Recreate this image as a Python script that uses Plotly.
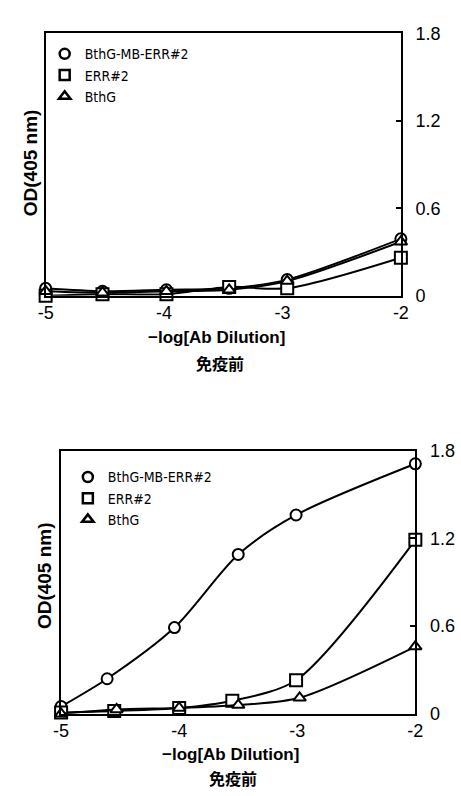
import plotly.graph_objects as go

# ---------------- data ----------------
series_names = ["BthG-MB-ERR#2", "ERR#2", "BthG"]
symbols = ["circle", "square", "triangle-up"]
marker_sizes = [11, 12, 11]

# Top panel (免疫前)
top_x_circle = [-5.0, -4.52, -3.98, -3.45, -2.96, -2.0]
top_y_circle = [0.05, 0.03, 0.04, 0.05, 0.11, 0.39]
top_x_square = [-5.0, -4.52, -3.98, -3.45, -2.96, -2.0]
top_y_square = [0.00, 0.01, 0.01, 0.06, 0.05, 0.26]
top_x_tri = [-5.0, -4.52, -3.98, -3.45, -2.96, -2.0]
top_y_tri = [0.03, 0.02, 0.03, 0.04, 0.10, 0.37]

# Bottom panel (免疫前)
bot_x_circle = [-5.0, -4.61, -4.04, -3.5, -3.01, -2.0]
bot_y_circle = [0.05, 0.24, 0.59, 1.09, 1.36, 1.71]
bot_x_square = [-5.0, -4.55, -4.0, -3.55, -3.01, -2.0]
bot_y_square = [0.01, 0.02, 0.04, 0.09, 0.23, 1.19]
bot_x_tri = [-5.0, -4.53, -4.0, -3.5, -2.98, -2.0]
bot_y_tri = [0.00, 0.03, 0.04, 0.06, 0.11, 0.46]

x_tickvals = [-5, -4, -3, -2]
x_ticktext = ["-5", "-4", "-3", "-2"]
y_tickvals = [0, 0.6, 1.2, 1.8]
y_ticktext = ["0", "0.6", "1.2", "1.8"]

x_title = "−log[Ab Dilution]"
sub_title = "免疫前"
y_title = "OD(405 nm)"

W, H = 461, 796
FONT = "Liberation Sans, Arial, sans-serif"
NARROW = "DejaVu Sans Condensed, DejaVu Sans, sans-serif"
CJK = "Noto Sans CJK JP, Noto Sans CJK SC, sans-serif"

fig = go.Figure()

panels = [
    dict(xa="x", ya="y", legend="legend",
         data=[(top_x_circle, top_y_circle), (top_x_square, top_y_square), (top_x_tri, top_y_tri)]),
    dict(xa="x2", ya="y2", legend="legend2",
         data=[(bot_x_circle, bot_y_circle), (bot_x_square, bot_y_square), (bot_x_tri, bot_y_tri)]),
]

for p in panels:
    for name, sym, ms, (xs, ys) in zip(series_names, symbols, marker_sizes, p["data"]):
        fig.add_trace(go.Scatter(
            x=xs, y=ys, mode="lines+markers", xaxis=p["xa"], yaxis=p["ya"],
            line=dict(color="black", width=2, shape="spline", smoothing=0.8),
            marker=dict(symbol=sym, size=ms, color="white", line=dict(color="black", width=2)),
            showlegend=False, cliponaxis=False, hoverinfo="skip"))
    for name, sym in zip(series_names, symbols):
        fig.add_trace(go.Scatter(
            x=[None], y=[None], mode="markers", xaxis=p["xa"], yaxis=p["ya"],
            marker=dict(symbol=sym, size=10, color="white", line=dict(color="black", width=2.5)),
            name=name, legend=p["legend"], showlegend=True))

def px_x(v):
    return v / W

def px_y(v):
    return 1 - v / H

axis_common = dict(showline=True, mirror=True, linecolor="black", linewidth=2,
                   showgrid=False, zeroline=False)

xcommon = dict(axis_common, range=[-5, -2], tickvals=x_tickvals, ticktext=x_ticktext,
               ticks="", tickfont=dict(family=FONT, size=18, color="black"))
ycommon = dict(axis_common, range=[0, 1.8], tickvals=y_tickvals, ticktext=y_ticktext,
               side="right", ticks="inside", ticklen=5, tickwidth=2, tickcolor="black",
               ticklabelstandoff=9,
               tickfont=dict(family=FONT, size=18, color="black"))

legend_common = dict(font=dict(family=NARROW, size=14, color="black"),
                     bgcolor="rgba(0,0,0,0)", borderwidth=0, xanchor="left", yanchor="top",
                     itemwidth=30, tracegroupgap=0)

fig.update_layout(
    width=W, height=H,
    margin=dict(l=0, r=0, t=0, b=0),
    paper_bgcolor="white", plot_bgcolor="white",
    showlegend=True,
    xaxis=dict(xcommon, domain=[px_x(39), px_x(407)], anchor="y"),
    yaxis=dict(ycommon, domain=[px_y(293), px_y(24)], anchor="x"),
    xaxis2=dict(xcommon, domain=[px_x(55), px_x(422)], anchor="y2"),
    yaxis2=dict(ycommon, domain=[px_y(722), px_y(452)], anchor="x2"),
    legend=dict(legend_common, x=px_x(38), y=px_y(29)),
    legend2=dict(legend_common, x=px_x(62), y=px_y(463)),
)

annotations = [
    dict(text=y_title, x=px_x(23), y=px_y(157), textangle=-90,
         font=dict(family=FONT, size=19, color="black", weight="bold")),
    dict(text=x_title, x=px_x(216), y=px_y(336),
         font=dict(family=FONT, size=17, color="black", weight="bold")),
    dict(text=sub_title, x=px_x(220), y=px_y(362),
         font=dict(family=CJK, size=16, color="black", weight="bold")),
    dict(text=y_title, x=px_x(38), y=px_y(580), textangle=-90,
         font=dict(family=FONT, size=19, color="black", weight="bold")),
    dict(text=x_title, x=px_x(230), y=px_y(764),
         font=dict(family=FONT, size=17, color="black", weight="bold")),
    dict(text=sub_title, x=px_x(233), y=px_y(788),
         font=dict(family=CJK, size=16, color="black", weight="bold")),
]
for a in annotations:
    fig.add_annotation(dict(a, xref="paper", yref="paper", showarrow=False,
                            xanchor="center", yanchor="middle"))

fig.write_html("out.html")
